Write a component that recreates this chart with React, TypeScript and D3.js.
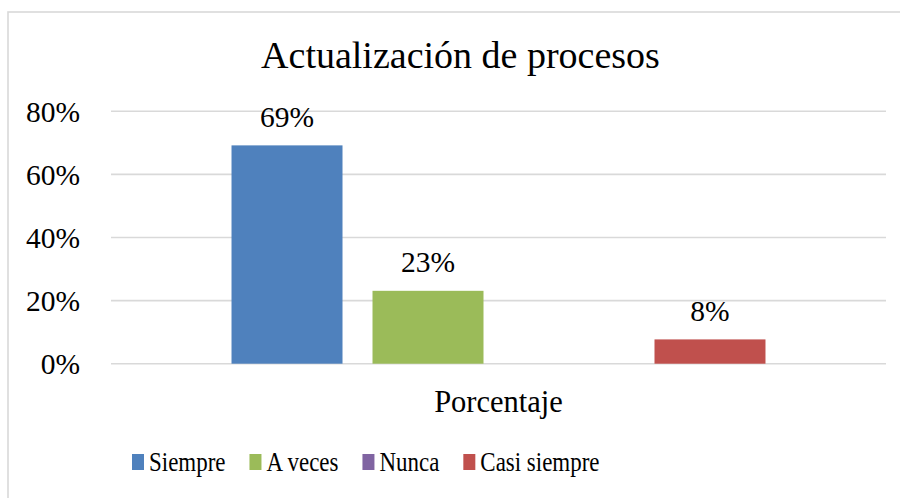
import React, { useEffect, useRef } from "react";
import * as d3 from "d3";

const chartTitle = "Actualización de procesos";
const categories = ["Porcentaje"];
const seriesNames = ["Siempre", "A veces", "Nunca", "Casi siempre"];
const seriesValues = [0.692, 0.231, 0, 0.077];
const seriesColors = ["#4F81BD", "#9BBB59", "#8064A2", "#C0504D"];
const yTicks = [0, 0.2, 0.4, 0.6, 0.8];

const FONT = "'Liberation Serif', 'Times New Roman', Times, serif";

export default function App() {
  const ref = useRef<SVGSVGElement>(null);

  useEffect(() => {
    const svg = d3.select(ref.current);
    svg.selectAll("*").remove();

    const plot = { left: 111, right: 886, top: 111.3, bottom: 363.7 };

    // frame
    svg
      .append("rect")
      .attr("x", 8)
      .attr("y", 12)
      .attr("width", 1000)
      .attr("height", 1000)
      .attr("fill", "#fff")
      .attr("stroke", "#d9d9d9")
      .attr("stroke-width", 1.6);

    // title
    svg
      .append("text")
      .attr("x", 460.5)
      .attr("y", 68)
      .attr("text-anchor", "middle")
      .attr("font-family", FONT)
      .attr("font-size", 38)
      .attr("fill", "#000")
      .text(chartTitle);

    const y = d3.scaleLinear().domain([0, 0.8]).range([plot.bottom, plot.top]);

    // gridlines
    svg
      .append("g")
      .selectAll("line")
      .data(yTicks)
      .join("line")
      .attr("x1", plot.left)
      .attr("x2", plot.right)
      .attr("y1", (d) => y(d))
      .attr("y2", (d) => y(d))
      .attr("stroke", "#d9d9d9")
      .attr("stroke-width", 1.6);

    // y tick labels
    svg
      .append("g")
      .selectAll("text")
      .data(yTicks)
      .join("text")
      .attr("x", 80)
      .attr("y", (d) => y(d) + 10.5)
      .attr("text-anchor", "end")
      .attr("font-family", FONT)
      .attr("font-size", 29.5)
      .attr("fill", "#000")
      .text((d) => d3.format(".0%")(d));

    // x scales
    const x0 = d3
      .scaleBand<string>()
      .domain(categories)
      .range([plot.left, plot.right])
      .paddingOuter(0.2257)
      .paddingInner(0);

    const cat = categories[0];
    const x1 = d3
      .scaleBand<string>()
      .domain(seriesNames)
      .range([x0(cat)!, x0(cat)! + x0.bandwidth()])
      .paddingInner(0.2128)
      .paddingOuter(0);

    const data = seriesNames.map((n, i) => ({
      name: n,
      value: seriesValues[i],
      color: seriesColors[i],
    }));

    svg
      .append("g")
      .selectAll("rect")
      .data(data)
      .join("rect")
      .attr("x", (d) => x1(d.name)!)
      .attr("width", x1.bandwidth())
      .attr("y", (d) => y(d.value))
      .attr("height", (d) => y(0) - y(d.value))
      .attr("fill", (d) => d.color);

    // data labels
    svg
      .append("g")
      .selectAll("text")
      .data(data.filter((d) => d.value > 0))
      .join("text")
      .attr("x", (d) => x1(d.name)! + x1.bandwidth() / 2)
      .attr("y", (d) => y(d.value) - 18.5)
      .attr("text-anchor", "middle")
      .attr("font-family", FONT)
      .attr("font-size", 29.5)
      .attr("fill", "#000")
      .text((d) => d3.format(".0%")(d.value));

    // category label
    svg
      .append("text")
      .attr("x", x0(cat)! + x0.bandwidth() / 2)
      .attr("y", 412)
      .attr("text-anchor", "middle")
      .attr("font-family", FONT)
      .attr("font-size", 30.5)
      .attr("fill", "#000")
      .text(cat);

    // legend
    const legend = svg.append("g");
    let cx = 132;
    const sx = 0.85;
    data.forEach((d) => {
      legend
        .append("rect")
        .attr("x", cx)
        .attr("y", 454)
        .attr("width", 12)
        .attr("height", 16)
        .attr("fill", d.color);
      const t = legend
        .append("text")
        .attr("transform", `translate(${cx + 17},471) scale(${sx},1)`)
        .attr("font-family", FONT)
        .attr("font-size", 27)
        .attr("fill", "#000")
        .text(d.name);
      const w = (t.node() as SVGTextElement).getComputedTextLength() * sx;
      cx = cx + 17 + w + 24;
    });
  }, []);

  return (
    <svg
      ref={ref}
      width={900}
      height={498}
      style={{ position: "fixed", left: 0, top: 0, display: "block", background: "#fff" }}
    />
  );
}
